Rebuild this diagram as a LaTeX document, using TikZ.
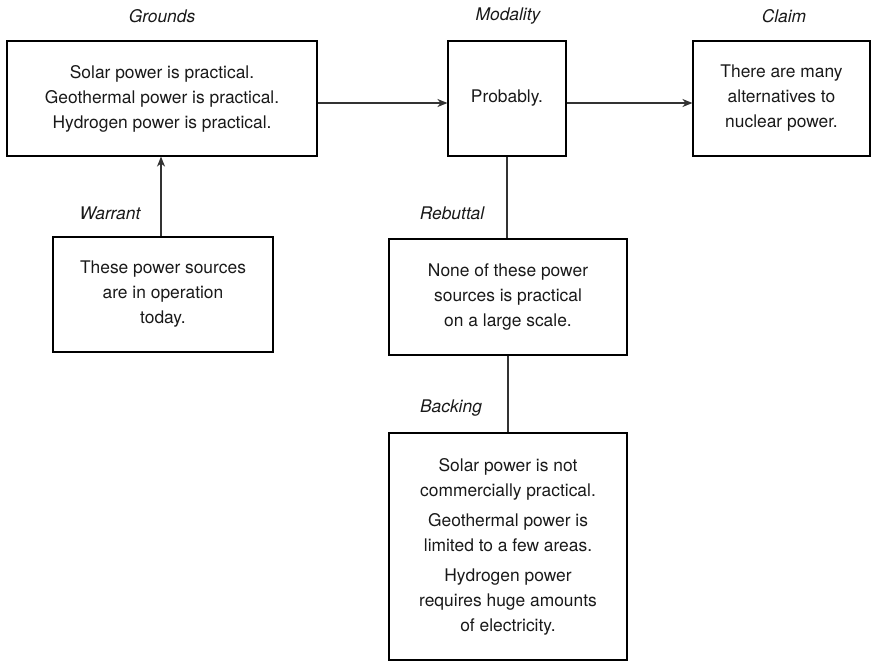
\documentclass[tikz,border=0pt]{standalone}
\usepackage{fontspec}
\setmainfont{TeX Gyre Heros}
\usetikzlibrary{arrows.meta,positioning}
\newcommand{\boxfont}{\fontsize{17.4pt}{25pt}\selectfont}
\tikzset{
  >={Stealth[length=10pt,width=8pt,inset=3pt]},
  part/.style ={rectangle, draw, line width=1.1pt, inner sep=0pt,
                font=\boxfont, align=center, text=black!90},
  con/.style  ={->, draw, line width=1.1pt, black!80},
  tie/.style  ={draw, line width=1.1pt, black!80},
  lbl/.style  ={font=\boxfont\itshape, inner sep=1pt, text=black!90},
}
\begin{document}
\begin{tikzpicture}[x=1pt,y=-1pt]
\useasboundingbox (0,0) rectangle (872,664);
% top row
\node[part, minimum width=310pt, minimum height=115pt] (grd) at (162,98.5)
  {Solar power is practical.\\Geothermal power is practical.\\Hydrogen power is practical.};
\node[part, minimum width=118pt, minimum height=115pt] (mod) at (507,98.5) {Probably.};
\node[part, minimum width=177pt, minimum height=115pt] (clm) at (781.5,98.5)
  {There are many\\alternatives to\\nuclear power.};
% lower boxes
\node[part, minimum width=220pt, minimum height=115pt] (war) at (163,294.5)
  {These power sources\\are in operation\\today.};
\node[part, minimum width=238pt, minimum height=116pt] (reb) at (508,297)
  {None of these power\\sources is practical\\on a large scale.};
\node[part, minimum width=238pt, minimum height=227pt] (bak) at (508,546.5)
  {Solar power is not\\commercially practical.\\[5pt]Geothermal power is\\limited to a few areas.\\[5pt]Hydrogen power\\requires huge amounts\\of electricity.};
% labels
\node[lbl] (lgrd) at (162,16) {Grounds};
\node[lbl] (lmod) at (508,16) {Modality};
\node[lbl] (lclm) at (784,16) {Claim};
\node[lbl] (lwar) at (110,213) {Warrant};
\node[lbl] (lreb) at (452,213) {Rebuttal};
\node[lbl] (lbak) at (451,408) {Backing};
% connectors
\draw[con] (grd.east |- 0,103) -- (mod.west |- 0,103);
\draw[con] (mod.east |- 0,103) -- (clm.west |- 0,103);
\draw[con] (war.north -| 161,0) -- (grd.south -| 161,0);
\draw[tie] (mod.south -| 507,0) -- (reb.north -| 507,0);
\draw[tie] (reb) -- (bak);
\end{tikzpicture}
\end{document}
